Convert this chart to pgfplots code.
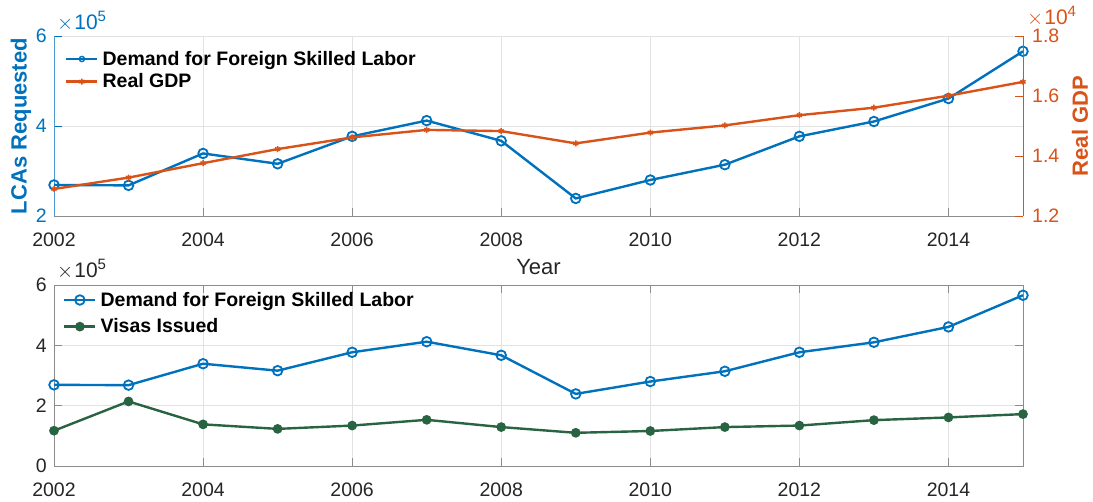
\documentclass[border=0pt]{standalone}
\usepackage{fontspec}
\setmainfont{Liberation Sans}
\usepackage{pgfplots}
\pgfplotsset{compat=1.18}
\definecolor{mblue}{RGB}{0,114,189}
\definecolor{morange}{RGB}{217,83,25}
\definecolor{mgreen}{RGB}{40,100,65}
\definecolor{tickgray}{RGB}{38,38,38}
\definecolor{gridgray}{RGB}{226,226,226}
\definecolor{axgray}{RGB}{140,140,140}
\newcommand{\scalelab}[1]{{\fontsize{21}{22}\selectfont$\times$\kern1pt 10\raisebox{8pt}{\fontsize{15}{15}\selectfont #1}}}
\pgfplotsset{
  mybase/.style={
    scale only axis, width=969pt,
    xmin=2002, xmax=2015,
    xtick={2002,2004,...,2014},
    tick align=inside,
    major tick length=8pt,
    /pgf/number format/assume math mode=true,
    /pgf/number format/1000 sep={},
    tick label style={font=\fontsize{19.5}{22}\selectfont},
    xticklabel style={text=tickgray, anchor=center, inner sep=0pt, yshift=-24pt},
    grid=major,
    major grid style={gridgray, line width=0.6pt},
    legend cell align=left,
    legend image code/.code={\draw[mark repeat=2,mark phase=2,#1] plot coordinates {(0pt,0pt) (15.5pt,0pt) (31pt,0pt)};},
    legend style={draw=none, fill=none, at={(rel axis cs:0,1)}, anchor=north west,
      font=\fontsize{19.5}{22}\selectfont\bfseries, inner sep=0pt, column sep=4pt,
      nodes={inner sep=0pt}},
    every axis x label/.style={at={(axis description cs:0.5,0)}, anchor=center, yshift=-51pt,
      font=\fontsize{22}{24}\selectfont, text=tickgray},
    clip=false,
  },
  bluel/.style={mblue, line width=2.4pt, mark=o, mark size=4.8pt, mark options={line width=1.8pt}},
  orangel/.style={morange, line width=2.4pt, mark=asterisk, mark size=3pt, mark options={line width=1.5pt}},
  greenl/.style={mgreen, line width=2.4pt, mark=*, mark size=3.6pt},
}
\begin{document}
\begin{tikzpicture}
\useasboundingbox (0,0) rectangle (1093pt,502pt);
% ---------- top panel, left axis
\begin{axis}[mybase, at={(54pt,286pt)}, anchor=south west, height=180pt,
  ymin=200000, ymax=600000, ytick={200000,400000,600000},
  scaled y ticks=base 10:-5,
  ytick scale label code/.code={},
  axis x line*=bottom, axis y line*=left,
  x axis line style={axgray,-}, y axis line style={mblue!70,-},
  x tick style={axgray, line width=0.7pt}, y tick style={mblue, line width=0.7pt},
  yticklabel style={text=mblue, anchor=east, inner sep=0pt, xshift=-7pt},
  xlabel={Year},
  ylabel={LCAs Requested},
  every axis y label/.style={at={(axis description cs:-0.034,0.5)}, rotate=90, anchor=center,
    font=\fontsize{22}{24}\selectfont\bfseries, text=mblue},
]
\addplot[bluel] coordinates {
(2002,269000) (2003,268000) (2004,339000) (2005,316000) (2006,377000) (2007,412000) (2008,367000)
(2009,239000) (2010,280000) (2011,314000) (2012,377000) (2013,410000) (2014,461000) (2015,566000)};
\node[anchor=base west, inner sep=0pt, text=mblue, xshift=3pt, yshift=6pt] at (rel axis cs:0,1) {\scalelab{5}};
\end{axis}
% ---------- top panel, right axis
\begin{axis}[mybase, at={(54pt,286pt)}, anchor=south west, height=180pt,
  ymin=12000, ymax=18000, ytick={12000,14000,16000,18000},
  scaled y ticks=base 10:-4,
  ytick scale label code/.code={},
  yticklabel style={text=morange, anchor=west, inner sep=0pt, xshift=9pt},
  /pgf/number format/fixed, /pgf/number format/fixed zerofill, /pgf/number format/precision=1,
  axis x line=none, axis y line*=right, grid=none,
  y axis line style={morange,-}, y tick style={morange, line width=0.7pt},
  legend style={xshift=11pt, yshift=-15pt, row sep=7pt},
  ylabel={Real GDP},
  every axis y label/.style={at={(axis description cs:1.0588,0.5)}, rotate=90, anchor=center,
    font=\fontsize{22}{24}\selectfont\bfseries, text=morange},
]
\addlegendimage{bluel, mark size=2.6pt, mark options={line width=1.4pt}}
\addlegendentry{Demand for Foreign Skilled Labor}
\addplot[orangel] coordinates {
(2002,12900) (2003,13280) (2004,13760) (2005,14230) (2006,14620) (2007,14870) (2008,14830)
(2009,14420) (2010,14780) (2011,15020) (2012,15360) (2013,15610) (2014,16010) (2015,16470)};
\addlegendentry{Real GDP}
\node[anchor=base west, inner sep=0pt, text=morange, xshift=4pt, yshift=11pt] at (rel axis cs:1,1) {\scalelab{4}};
\end{axis}
% ---------- bottom panel
\begin{axis}[mybase, at={(54pt,36pt)}, anchor=south west, height=181pt,
  ymin=0, ymax=600000, ytick={0,200000,400000,600000},
  scaled y ticks=base 10:-5,
  ytick scale label code/.code={},
  axis line style={axgray}, tick style={axgray, line width=0.7pt},
  yticklabel style={text=tickgray, anchor=east, inner sep=0pt, xshift=-7pt},
  legend style={xshift=9pt, yshift=-7pt, row sep=11pt},
]
\addplot[bluel] coordinates {
(2002,269000) (2003,268000) (2004,339000) (2005,316000) (2006,377000) (2007,412000) (2008,367000)
(2009,239000) (2010,280000) (2011,314000) (2012,377000) (2013,410000) (2014,461000) (2015,566000)};
\addlegendentry{Demand for Foreign Skilled Labor}
\addplot[greenl] coordinates {
(2002,117000) (2003,214000) (2004,138000) (2005,123000) (2006,134000) (2007,153000) (2008,129000)
(2009,110000) (2010,116000) (2011,129000) (2012,134000) (2013,152000) (2014,161000) (2015,172000)};
\addlegendentry{Visas Issued}
\node[anchor=base west, inner sep=0pt, text=tickgray, xshift=3pt, yshift=7pt] at (rel axis cs:0,1) {\scalelab{5}};
\end{axis}
\end{tikzpicture}
\end{document}
